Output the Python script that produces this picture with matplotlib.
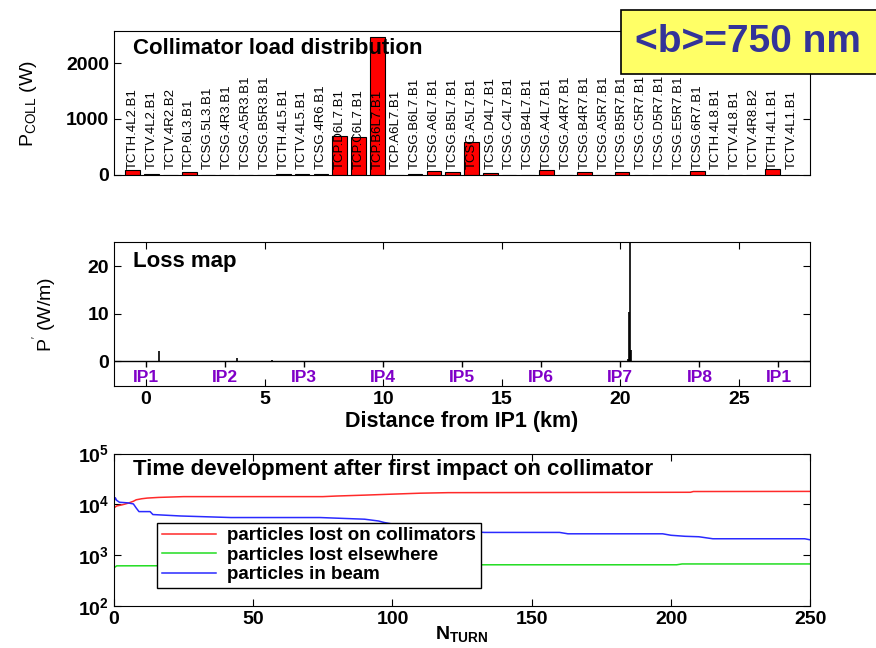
import matplotlib
matplotlib.use('Agg')
import matplotlib.pyplot as plt
from matplotlib import font_manager
from matplotlib.patches import Rectangle
import numpy as np

plt.rcParams['font.family'] = ['Liberation Sans', 'DejaVu Sans']
plt.rcParams['mathtext.fontset'] = 'custom'
plt.rcParams['mathtext.rm'] = 'Liberation Sans'
plt.rcParams['mathtext.bf'] = 'Liberation Sans:bold'
plt.rcParams['mathtext.it'] = 'Liberation Sans:italic'

# collimator load distribution
collimators = ['TCTH.4L2.B1', 'TCTV.4L2.B1', 'TCTV.4R2.B2', 'TCP.6L3.B1', 'TCSG.5L3.B1',
               'TCSG.4R3.B1', 'TCSG.A5R3.B1', 'TCSG.B5R3.B1', 'TCTH.4L5.B1', 'TCTV.4L5.B1',
               'TCSG.4R6.B1', 'TCP.D6L7.B1', 'TCP.C6L7.B1', 'TCP.B6L7.B1', 'TCP.A6L7.B1',
               'TCSG.B6L7.B1', 'TCSG.A6L7.B1', 'TCSG.B5L7.B1', 'TCSG.A5L7.B1', 'TCSG.D4L7.B1',
               'TCSG.C4L7.B1', 'TCSG.B4L7.B1', 'TCSG.A4L7.B1', 'TCSG.A4R7.B1', 'TCSG.B4R7.B1',
               'TCSG.A5R7.B1', 'TCSG.B5R7.B1', 'TCSG.C5R7.B1', 'TCSG.D5R7.B1', 'TCSG.E5R7.B1',
               'TCSG.6R7.B1', 'TCTH.4L8.B1', 'TCTV.4L8.B1', 'TCTV.4R8.B2', 'TCTH.4L1.B1',
               'TCTV.4L1.B1']
p_coll = [80, 15, 0, 55, 0, 0, 0, 0, 10, 10,
          10, 695, 670, 2460, 0, 10, 70, 55, 580, 35,
          8, 8, 95, 8, 55, 0, 55, 0, 8, 8,
          70, 0, 8, 0, 115, 8]

# loss map
loss_km = [0.55, 3.85, 5.3, 20.30, 20.38, 20.40, 20.42, 20.44]
loss_wm = [2.2, 0.8, 0.3, 0.6, 10.4, 2.5, 60.0, 2.3]
ip_names = ['IP1', 'IP2', 'IP3', 'IP4', 'IP5', 'IP6', 'IP7', 'IP8', 'IP1']
ip_km = [0.0, 3.332, 6.665, 9.997, 13.33, 16.662, 19.994, 23.327, 26.659]

# time development
turn_coll = [0, 1, 3, 5, 7, 8, 10, 12, 16, 25, 75, 80, 90, 100, 110, 120, 207, 208, 250]
n_coll = [8500, 9300, 9800, 10500, 11500, 12300, 12900, 13300, 13700, 14200, 14200,
          14600, 15200, 15900, 16600, 17000, 17300, 17900, 18000]
turn_else = [0, 1, 100, 133, 202, 204, 250]
n_else = [560, 615, 630, 645, 645, 670, 670]
turn_beam = [0, 0.5, 1, 2, 5, 7, 8, 9, 13, 14, 24, 42, 74, 90, 95, 97, 100, 110, 120,
             133, 160, 163, 197, 200, 205, 210, 215, 248, 250]
n_beam = [11000, 13500, 12000, 11000, 10700, 10200, 8500, 7200, 7200, 6300, 5900, 5500,
          5500, 5100, 4700, 4400, 4100, 3500, 3100, 2800, 2800, 2630, 2630, 2460, 2350,
          2300, 2100, 2100, 2000]

names = {f.name for f in font_manager.fontManager.ttflist}
if 'Liberation Sans Narrow' in names:
    lab_font, lab_size = 'Liberation Sans Narrow', 11.5
else:
    lab_font, lab_size = 'Liberation Sans', 9.5

fig = plt.figure(figsize=(8.76, 6.48), dpi=100)

# --- top: collimator loads
ax1 = fig.add_axes([0.130, 0.730, 0.795, 0.222])
x = np.arange(1, len(collimators) + 1)
ax1.bar(x, p_coll, width=0.78, color='#ff0000', edgecolor='black', linewidth=0.8)
for xi, name in zip(x, collimators):
    ax1.text(xi, 110, name, rotation=90, ha='center', va='bottom',
             family=lab_font, fontsize=lab_size)
ax1.set_xlim(0, len(collimators) + 1)
ax1.set_ylim(0, 2570)
ax1.set_xticks([])
ax1.set_yticks([0, 1000, 2000])
ax1.tick_params(axis='y', direction='in', right=True, labelsize=14, length=5)
for t in ax1.get_yticklabels():
    t.set_fontweight('bold')
ax1.set_ylabel(r'P$_{\rm COLL}$ (W)', fontsize=14)
ax1.yaxis.set_label_coords(-0.108, 0.5)
ax1.text(0.027, 0.88, 'Collimator load distribution', transform=ax1.transAxes,
         fontsize=16, fontweight='bold', va='center')

# --- middle: loss map
ax2 = fig.add_axes([0.130, 0.404, 0.795, 0.222])
ax2.vlines(loss_km, 0, loss_wm, color='black', linewidth=1.2)
ax2.axhline(0, color='black', linewidth=1)
ax2.vlines(ip_km, -1.2, 0, color='black', linewidth=1)
for name, pos in zip(ip_names, ip_km):
    ax2.text(pos, -3.3, name, color='#8000c8', fontsize=12.5, fontweight='bold',
             ha='center', va='center')
ax2.set_xlim(-1.35, 28.0)
ax2.set_ylim(-5.2, 25)
ax2.set_xticks([0, 5, 10, 15, 20, 25])
ax2.set_yticks([0, 10, 20])
ax2.tick_params(direction='in', top=True, right=True, labelsize=14, length=5)
for t in ax2.get_xticklabels() + ax2.get_yticklabels():
    t.set_fontweight('bold')
ax2.set_xlabel('Distance from IP1 (km)', fontsize=15.5, fontweight='bold', labelpad=2)
ax2.set_ylabel(r"P$^{'}$ (W/m)", fontsize=14)
ax2.yaxis.set_label_coords(-0.078, 0.5)
ax2.text(0.027, 0.868, 'Loss map', transform=ax2.transAxes,
         fontsize=16, fontweight='bold', va='center')

# --- bottom: time development
ax3 = fig.add_axes([0.130, 0.065, 0.795, 0.235])
ax3.plot(turn_coll, n_coll, color='#ff2a2a', linewidth=1.1, label='particles lost on collimators')
ax3.plot(turn_else, n_else, color='#22dd22', linewidth=1.1, label='particles lost elsewhere')
ax3.plot(turn_beam, n_beam, color='#2a2aff', linewidth=1.1, label='particles in beam')
ax3.set_yscale('log')
ax3.set_xlim(0, 250)
ax3.set_ylim(1e2, 1e5)
ax3.set_xticks([0, 50, 100, 150, 200, 250])
ax3.set_yticks([1e2, 1e3, 1e4, 1e5])
ax3.set_yticklabels([r'$\mathbf{10^{2}}$', r'$\mathbf{10^{3}}$',
                     r'$\mathbf{10^{4}}$', r'$\mathbf{10^{5}}$'])
ax3.tick_params(direction='in', top=True, right=True, labelsize=14, length=5)
ax3.tick_params(which='minor', direction='in', right=True, length=3)
for t in ax3.get_xticklabels():
    t.set_fontweight('bold')
ax3.set_xlabel(r'$\mathbf{N_{TURN}}$', fontsize=14, labelpad=-3)
ax3.text(0.027, 0.895, 'Time development after first impact on collimator',
         transform=ax3.transAxes, fontsize=16, fontweight='bold', va='center')
leg = ax3.legend(loc='lower left', bbox_to_anchor=(0.062, 0.118), borderaxespad=0,
                 fancybox=False, framealpha=1, edgecolor='black', handlelength=2.9,
                 handletextpad=0.6, borderpad=0.25, labelspacing=0.12,
                 prop={'weight': 'bold', 'size': 13.5})
leg.get_frame().set_linewidth(1)

# yellow label box
fig.patches.append(Rectangle((0.709, 0.886), 0.3, 0.099, transform=fig.transFigure,
                             facecolor='#ffff66', edgecolor='black', linewidth=1.2,
                             zorder=5))
fig.text(0.854, 0.935, '<b>=750 nm', fontsize=28, fontweight='bold', color='#333399',
         ha='center', va='center', zorder=6)

fig.savefig('out.png', dpi=100)
